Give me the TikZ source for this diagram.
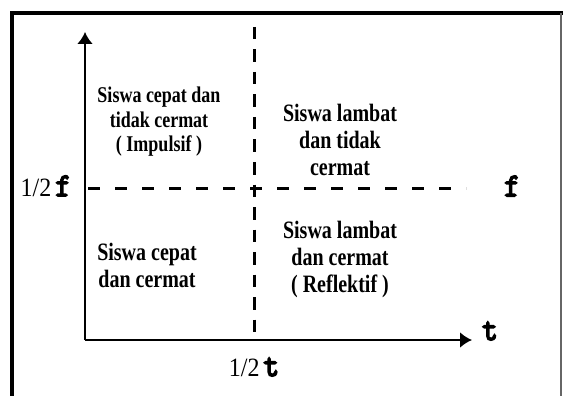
\documentclass[tikz,border=0pt]{standalone}
\usepackage{fontspec}
\setmainfont{Liberation Serif}
\newfontfamily\cour[FakeBold=5]{Latin Modern Mono}
\usetikzlibrary{arrows.meta}
\tikzset{
  axisline/.style={line width=2.8pt,-{Latex[length=12pt,width=16pt]}},
  vdash/.style={line width=3pt,dash pattern=on 12.5pt off 10pt},
  hdash/.style={line width=3pt,dash pattern=on 12pt off 15pt},
  quad/.style={align=center,font=\bfseries\fontsize{18}{19.6}\selectfont,inner sep=0pt,yscale=1.25,transform shape},
  quadb/.style={align=center,font=\bfseries\fontsize{20}{21.6}\selectfont,inner sep=0pt,yscale=1.25,transform shape},
  lbl/.style={inner sep=0pt,font=\fontsize{24}{26}\selectfont,yscale=1.1,transform shape},
  sym/.style={font=\cour\fontsize{30}{30}\selectfont},
}
\begin{document}
\begin{tikzpicture}[x=1pt,y=-1pt]
\useasboundingbox (0,0) rectangle (563,396);
% frame
\draw[line width=4.5pt] (12,398) -- (12,13) -- (563,13);
\draw[line width=1.2pt,black!60] (561,13) -- (561,398);
% axes
\coordinate (O) at (85,340);
\coordinate (ytop) at (85,32);
\coordinate (xend) at (472,340);
\draw[axisline] (O) -- (ytop);
\draw[axisline] (O) -- (xend);
% dashed lines
\coordinate (vt) at (254,27);
\coordinate (vb) at (254,336);
\coordinate (hl) at (88,188);
\coordinate (hr) at (466,188);
\draw[vdash] (vt) -- (vb);
\draw[hdash] (hl) -- (hr);
% labels
\node[lbl,anchor=east] (hf) at (71,186) {1/2\,{\cour\fontsize{30}{30}\selectfont f}};
\node[lbl,sym] (f) at (512,186) {f};
\node[lbl,sym] (t) at (490,331) {t};
\node[lbl] (ht) at (254,367) {1/2\,{\cour\fontsize{30}{30}\selectfont t}};
% quadrants
\node[quad] (q1) at (159,122) {Siswa cepat dan\\tidak cermat\\( Impulsif )};
\node[quadb] (q2) at (340,140) {Siswa lambat\\dan tidak\\cermat};
\node[quadb] (q3) at (147,265) {Siswa cepat\\dan cermat};
\node[quadb] (q4) at (340,259) {Siswa lambat\\dan cermat\\( Reflektif )};
\end{tikzpicture}
\end{document}
